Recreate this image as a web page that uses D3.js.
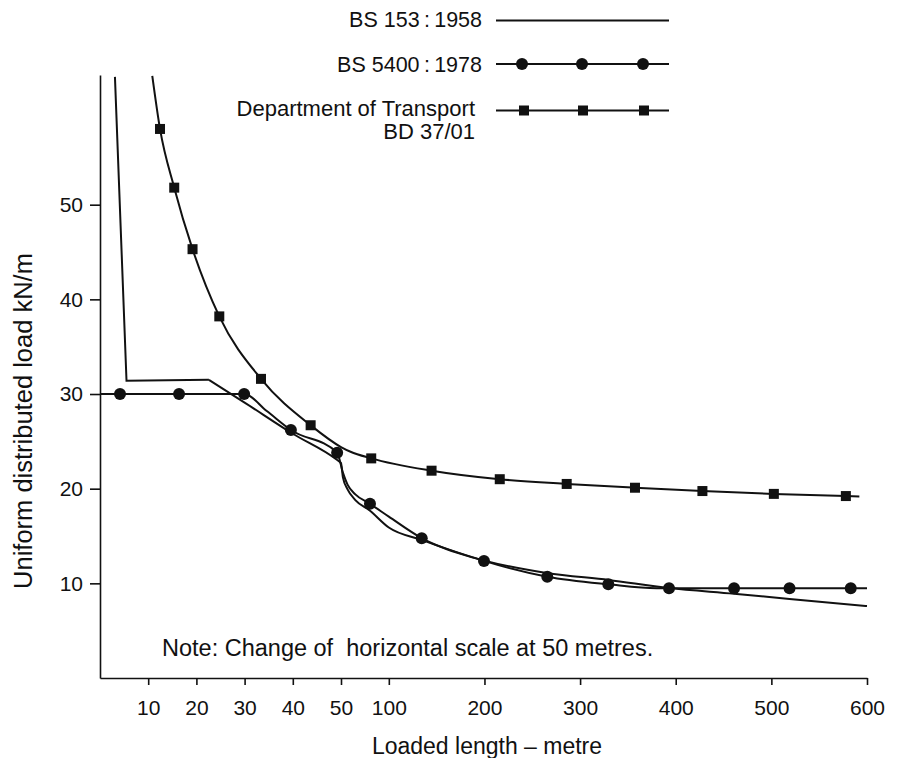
<!DOCTYPE html>
<html>
<head>
<meta charset="utf-8">
<script src="https://cdn.jsdelivr.net/npm/d3@7"></script>
<style>
body { margin: 0; background: #fff; }
text { font-family: "Liberation Sans", Arial, sans-serif; fill: #111; }
.axis path, .axis line { stroke: #111; stroke-width: 1.6; }
.axis text { font-size: 21px; }
.curve { fill: none; stroke: #111; stroke-width: 2; }
</style>
</head>
<body>
<div id="chart"></div>
<script>
// loaded length (m), load (kN/m)
let bs153Start = [[3.1, 63.5], [5.5, 31.4], [22.6, 31.5]];
let bs153 = [[22.6, 31.5], [30, 29.1], [40, 25.8], [49, 23.1], [50, 22.7],
  [52, 21.2], [57, 19.9], [65, 18.8], [80, 17.7], [100, 15.9], [134, 14.6], [200, 12.4],
  [265, 11.1], [330, 10.35], [393, 9.5], [461, 8.9], [519, 8.35], [600, 7.6]];
let bs5400 = [[0, 30], [29.9, 30], [34.6, 28.2], [39.6, 26.2], [49.2, 23.8],
  [52, 21.7], [57, 20.4], [65, 19.4], [80.3, 18.4], [100, 17.05], [134.4, 14.77], [199.5, 12.37],
  [265.7, 10.7], [329.5, 9.9], [380, 9.48], [600, 9.48]];
let bs5400Marks = [[4.15, 30], [16.4, 30], [29.9, 30], [39.6, 26.2], [49.2, 23.8], [80.3, 18.4],
  [134.4, 14.77], [199.5, 12.37], [265.7, 10.7], [329.5, 9.9], [393, 9.48], [461, 9.48],
  [519, 9.48], [583, 9.48]];
let bd37 = [[10.85, 63.6], [12.45, 58.0], [15.4, 51.8], [19.2, 45.3], [24.75, 38.2], [33.4, 31.6],
  [43.7, 26.7], [50, 24.4], [60, 23.9], [81.6, 23.2], [144.7, 21.9], [216, 21.0], [286, 20.5],
  [357.4, 20.1], [427.9, 19.75], [502.6, 19.45], [577.9, 19.22], [592, 19.18]];
let bd37Marks = [[12.45, 58.0], [15.4, 51.8], [19.2, 45.3], [24.75, 38.2], [33.4, 31.6],
  [43.7, 26.7], [81.6, 23.2], [144.7, 21.9], [216, 21.0], [286, 20.5], [357.4, 20.1],
  [427.9, 19.75], [502.6, 19.45], [577.9, 19.22]];
let xTicks = [10, 20, 30, 40, 50, 100, 200, 300, 400, 500, 600];
let yTicks = [10, 20, 30, 40, 50];
let legendNames = ["BS 153\u2009:\u20091958", "BS 5400\u2009:\u20091978", "Department of Transport"];

let width = 897;
let height = 758;

let svg = d3.select("#chart")
  .append("svg")
  .attr("width", width)
  .attr("height", height);

// horizontal scale changes at 50 metres
let x = d3.scaleLinear()
  .domain([0, 50, 600])
  .range([100, 341, 867]);

let y = d3.scaleLinear()
  .domain([0, 63.7])
  .range([678, 75]);

svg.append("g")
  .attr("class", "axis")
  .attr("transform", "translate(0,678)")
  .call(d3.axisBottom(x).tickValues(xTicks).tickSize(7).tickSizeOuter(0).tickPadding(15));

svg.append("g")
  .attr("class", "axis")
  .attr("transform", "translate(100,0)")
  .call(d3.axisLeft(y).tickValues(yTicks).tickSize(10).tickSizeOuter(0).tickPadding(7));

let line = d3.line()
  .x(function(d) { return x(d[0]); })
  .y(function(d) { return y(d[1]); })
  .curve(d3.curveMonotoneX);

let straight = d3.line()
  .x(function(d) { return x(d[0]); })
  .y(function(d) { return y(d[1]); });

svg.append("path").attr("class", "curve").attr("d", straight(bs153Start));
svg.append("path").attr("class", "curve").attr("d", line(bs153));
svg.append("path").attr("class", "curve").attr("d", line(bs5400));
svg.append("path").attr("class", "curve").attr("d", line(bd37));

svg.selectAll(".dot")
  .data(bs5400Marks)
  .enter()
  .append("circle")
  .attr("class", "dot")
  .attr("cx", function(d) { return x(d[0]); })
  .attr("cy", function(d) { return y(d[1]); })
  .attr("r", 6)
  .attr("fill", "#111");

svg.selectAll(".sq")
  .data(bd37Marks)
  .enter()
  .append("rect")
  .attr("class", "sq")
  .attr("x", function(d) { return x(d[0]) - 5; })
  .attr("y", function(d) { return y(d[1]) - 5; })
  .attr("width", 10)
  .attr("height", 10)
  .attr("fill", "#111");

// legend
let legY = [20.5, 64, 110.5];
let legText = [27, 72, 116];
let legEnd = [482, 482, 475];
legendNames.forEach(function(name, i) {
  svg.append("text")
    .attr("x", legEnd[i])
    .attr("y", legText[i])
    .attr("text-anchor", "end")
    .style("font-size", i == 2 ? "22px" : "21.5px")
    .text(name);
  svg.append("line")
    .attr("x1", 496).attr("x2", 669)
    .attr("y1", legY[i]).attr("y2", legY[i])
    .attr("stroke", "#111")
    .attr("stroke-width", 2);
});
svg.append("text")
  .attr("x", 475)
  .attr("y", 139)
  .attr("text-anchor", "end")
  .style("font-size", "22px")
  .text("BD 37/01");

[522, 582, 643].forEach(function(cx) {
  svg.append("circle").attr("cx", cx).attr("cy", legY[1]).attr("r", 6).attr("fill", "#111");
});
[524, 583, 644].forEach(function(cx) {
  svg.append("rect").attr("x", cx - 5).attr("y", legY[2] - 5)
    .attr("width", 10).attr("height", 10).attr("fill", "#111");
});

svg.append("text")
  .attr("x", 162)
  .attr("y", 656)
  .style("font-size", "23.5px")
  .style("white-space", "pre")
  .text("Note: Change of  horizontal scale at 50 metres.");

svg.append("text")
  .attr("x", 487)
  .attr("y", 754)
  .attr("text-anchor", "middle")
  .style("font-size", "23px")
  .text("Loaded length \u2013 metre");

svg.append("text")
  .attr("transform", "translate(32,421) rotate(-90)")
  .attr("text-anchor", "middle")
  .style("font-size", "25.5px")
  .text("Uniform distributed load kN/m");
</script>
</body>
</html>
